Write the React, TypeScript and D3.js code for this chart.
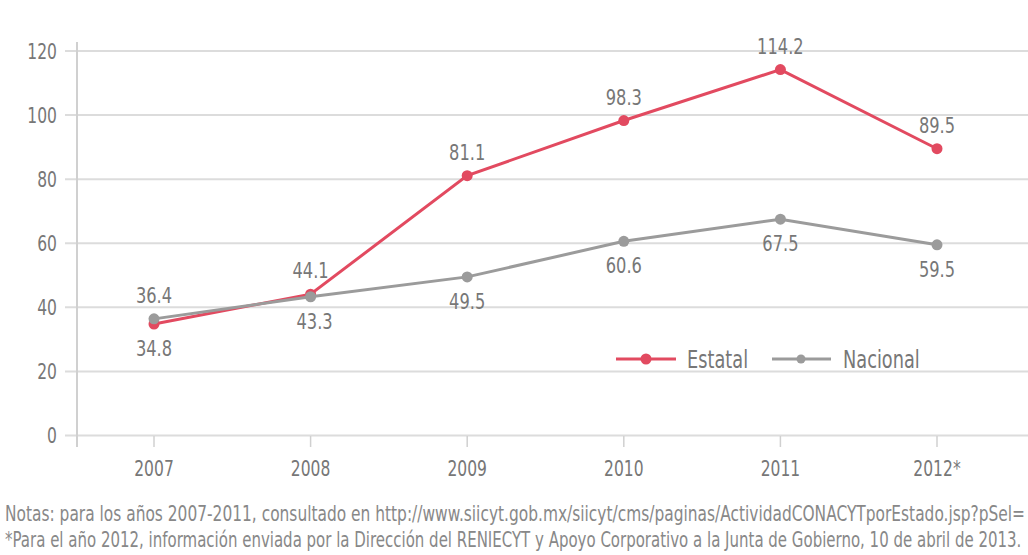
import React, { useLayoutEffect, useRef, useState } from "react";
import * as d3 from "d3";

const categories = ["2007", "2008", "2009", "2010", "2011", "2012*"];
const estatal = [34.8, 44.1, 81.1, 98.3, 114.2, 89.5];
const nacional = [36.4, 43.3, 49.5, 60.6, 67.5, 59.5];
const yTicks = [0, 20, 40, 60, 80, 100, 120];
const estatalLabelPos = ["below", "above", "above", "above", "above", "above"];
const nacionalLabelPos = ["above", "below", "below", "below", "below", "below"];
const notes = [
  "Notas: para los años 2007-2011, consultado en http://www.siicyt.gob.mx/siicyt/cms/paginas/ActividadCONACYTporEstado.jsp?pSel=",
  "*Para el año 2012, información enviada por la Dirección del RENIECYT y Apoyo Corporativo a la Junta de Gobierno, 10 de abril de 2013.",
];

const FONT = "'DejaVu Sans', sans-serif";
const RED = "#e24a60";
const GRAY = "#9b9b9b";
const TEXT = "#777";
const SX = 0.74;

function NText({ x, y, anchor = "start", size, fill = TEXT, children }: any) {
  return (
    <g transform={`translate(${x},${y}) scale(${SX},1)`}>
      <text x={0} y={0} textAnchor={anchor} fontSize={size} fill={fill}>{children}</text>
    </g>
  );
}

function FitText({ x, y, width, size, fill, children }: any) {
  const ref = useRef<SVGTextElement>(null);
  const [k, setK] = useState(0.7);
  useLayoutEffect(() => {
    if (ref.current) {
      const w = ref.current.getComputedTextLength();
      if (w > 0) setK(width / w);
    }
  }, [width, children]);
  return (
    <g transform={`translate(${x},${y}) scale(${k},1)`}>
      <text ref={ref} x={0} y={0} fontSize={size} fill={fill}>{children}</text>
    </g>
  );
}

export default function App() {
  const W = 1028, H = 555;
  const x = d3.scalePoint<string>().domain(categories).range([154, 937]);
  const y = d3.scaleLinear().domain([0, 120]).range([435.5, 51]);
  const line = d3.line<number>().x((_, i) => x(categories[i])!).y((d) => y(d));

  const series = [
    { name: "Estatal", values: estatal, color: RED, pos: estatalLabelPos },
    { name: "Nacional", values: nacional, color: GRAY, pos: nacionalLabelPos },
  ];

  return (
    <svg width={W} height={H} style={{ position: "absolute", left: 0, top: 0, background: "#fff" }} fontFamily={FONT}>
      {yTicks.map((t) => (
        <g key={t}>
          <line x1={65} x2={W} y1={y(t)} y2={y(t)} stroke="#dcdcdc" strokeWidth={2} />
          <NText x={57} y={y(t) + 7.5} anchor="end" size={21}>{t}</NText>
        </g>
      ))}
      <line x1={77} x2={77} y1={42} y2={447} stroke="#d0d0d0" strokeWidth={2} />
      {categories.map((c) => (
        <g key={c}>
          <line x1={x(c)} x2={x(c)} y1={436} y2={447} stroke="#d0d0d0" strokeWidth={1.5} />
          <NText x={x(c)} y={476} anchor="middle" size={21}>{c}</NText>
        </g>
      ))}
      {series.map((s) => (
        <g key={s.name}>
          <path d={line(s.values)!} fill="none" stroke={s.color} strokeWidth={3} />
          {s.values.map((v, i) => (
            <circle key={i} cx={x(categories[i])} cy={y(v)} r={5.5} fill={s.color} />
          ))}
          {s.values.map((v, i) => (
            <NText key={"l" + i} x={x(categories[i])! + (s.name === "Nacional" && i === 1 ? 4 : 0)}
              y={s.pos[i] === "above" ? y(v) - 16 : y(v) + 32}
              anchor="middle" size={22}>
              {v.toFixed(1)}
            </NText>
          ))}
        </g>
      ))}
      <g>
        <line x1={616} x2={676} y1={359} y2={359} stroke={RED} strokeWidth={3} />
        <circle cx={646} cy={359} r={5.5} fill={RED} />
        <NText x={687} y={368} size={24}>Estatal</NText>
        <line x1={772} x2={831} y1={359} y2={359} stroke={GRAY} strokeWidth={3} />
        <circle cx={801} cy={359} r={4.5} fill={GRAY} />
        <NText x={843} y={368} size={24}>Nacional</NText>
      </g>
      <FitText x={5} y={521} width={1020} size={21.5} fill="#888">{notes[0]}</FitText>
      <FitText x={5} y={547} width={1017} size={21.5} fill="#888">{notes[1]}</FitText>
    </svg>
  );
}
